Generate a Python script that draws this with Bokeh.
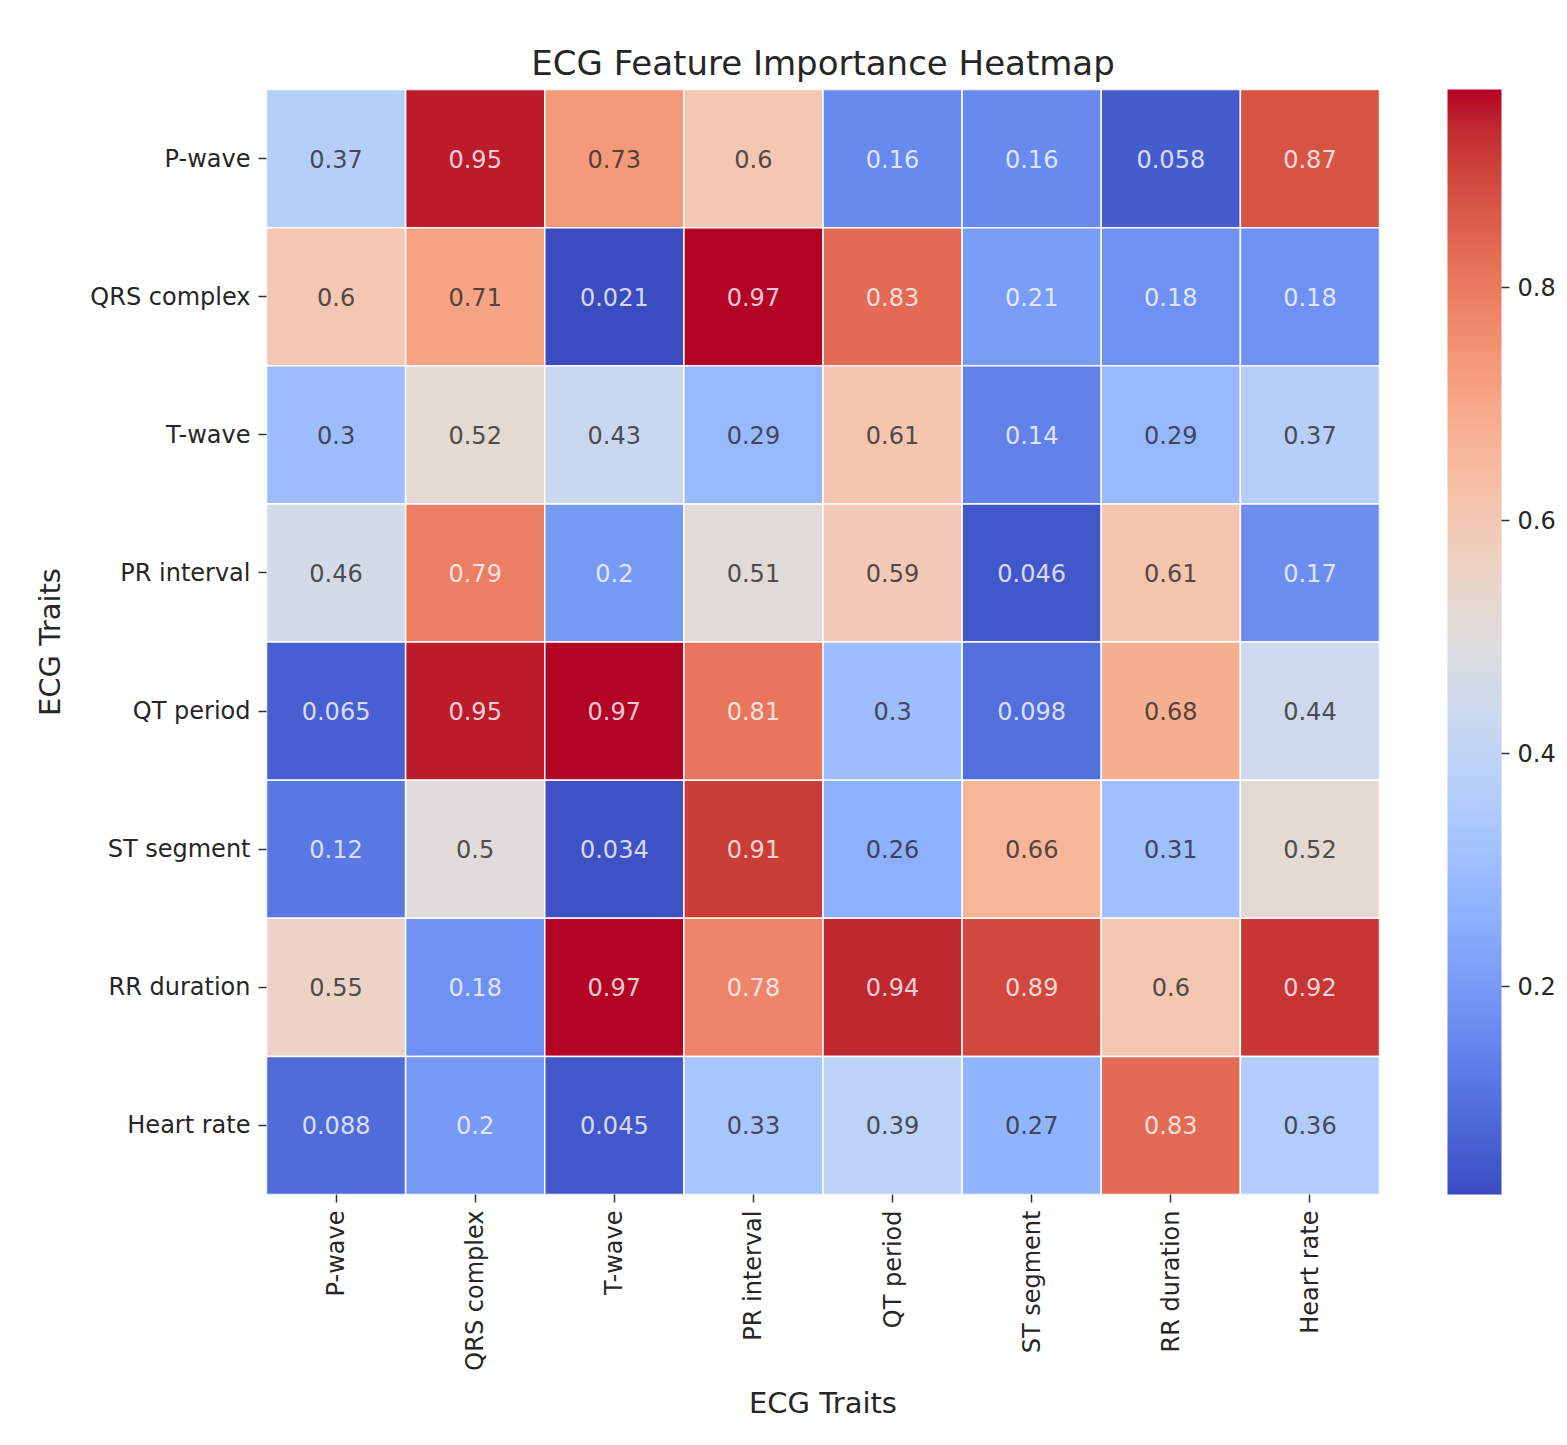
import math
import numpy as np
from bokeh.plotting import figure
from bokeh.models import (ColumnDataSource, FactorRange, LinearColorMapper, ColorBar,
                          FixedTicker)
from bokeh.core.properties import value
from bokeh.embed import file_html
from bokeh.resources import INLINE

traits = ["P-wave", "QRS complex", "T-wave", "PR interval",
          "QT period", "ST segment", "RR duration", "Heart rate"]

row_p_wave      = [0.37, 0.95, 0.73, 0.6, 0.16, 0.16, 0.058, 0.87]
row_qrs_complex = [0.6, 0.71, 0.021, 0.97, 0.83, 0.21, 0.18, 0.18]
row_t_wave      = [0.3, 0.52, 0.43, 0.29, 0.61, 0.14, 0.29, 0.37]
row_pr_interval = [0.46, 0.79, 0.2, 0.51, 0.59, 0.046, 0.61, 0.17]
row_qt_period   = [0.065, 0.95, 0.97, 0.81, 0.3, 0.098, 0.68, 0.44]
row_st_segment  = [0.12, 0.5, 0.034, 0.91, 0.26, 0.66, 0.31, 0.52]
row_rr_duration = [0.55, 0.18, 0.97, 0.78, 0.94, 0.89, 0.6, 0.92]
row_heart_rate  = [0.088, 0.2, 0.045, 0.33, 0.39, 0.27, 0.83, 0.36]
rows_values = [row_p_wave, row_qrs_complex, row_t_wave, row_pr_interval,
               row_qt_period, row_st_segment, row_rr_duration, row_heart_rate]

colorbar_ticks = [0.2, 0.4, 0.6, 0.8]

# coolwarm (Moreland) anchor colours
cw_anchors = np.array([
    (59, 76, 192), (68, 90, 204), (77, 104, 215), (87, 117, 225), (98, 130, 234),
    (108, 142, 241), (119, 154, 247), (130, 165, 251), (141, 176, 254), (152, 185, 255),
    (163, 194, 255), (174, 201, 253), (184, 208, 249), (194, 213, 244), (204, 217, 238),
    (213, 219, 230), (221, 221, 221), (229, 216, 209), (236, 211, 197), (241, 204, 185),
    (245, 196, 173), (247, 187, 160), (247, 177, 148), (247, 166, 135), (244, 154, 123),
    (241, 141, 111), (236, 127, 99), (229, 112, 88), (222, 96, 77), (213, 80, 66),
    (203, 62, 56), (192, 40, 47), (180, 4, 38)], dtype=float)
pos_a = np.linspace(0, 1, len(cw_anchors))
pos_p = np.linspace(0, 1, 256)
cw_rgb = np.stack([np.interp(pos_p, pos_a, cw_anchors[:, k]) for k in range(3)], axis=1)
coolwarm = ["#%02x%02x%02x" % tuple(int(round(c)) for c in rgb) for rgb in cw_rgb]

all_vals = [v for r in rows_values for v in r]
vmin, vmax = min(all_vals), max(all_vals)
mapper = LinearColorMapper(palette=coolwarm, low=vmin, high=vmax)


def lum(rgb):
    c = np.array(rgb) / 255.0
    c = np.where(c <= 0.03928, c / 12.92, ((c + 0.055) / 1.055) ** 2.4)
    return 0.2126 * c[0] + 0.7152 * c[1] + 0.0722 * c[2]


xs, ys, vs, labels, tcols = [], [], [], [], []
for rname, rvals in zip(traits, rows_values):
    for cname, v in zip(traits, rvals):
        xs.append(cname)
        ys.append(rname)
        vs.append(v)
        labels.append(("%.2g" % v))
        idx = int(round((v - vmin) / (vmax - vmin) * 255))
        tcols.append("#262626" if lum(cw_rgb[idx]) > 0.408 else "#ffffff")

src = ColumnDataSource(dict(x=xs, y=ys, v=vs, label=labels, tc=tcols))

FONT = "DejaVu Sans"
p = figure(frame_width=1113, frame_height=1105,
           x_range=FactorRange(*traits), y_range=FactorRange(*reversed(traits)),
           output_backend="svg", toolbar_location=None,
           min_border_left=266, min_border_top=89, min_border_right=170,
           min_border_bottom=228, title="ECG Feature Importance Heatmap")

p.rect(x="x", y="y", width=1, height=1, source=src,
       fill_color={"field": "v", "transform": mapper},
       line_color="white", line_width=1.5)
p.text(x="x", y="y", text="label", source=src, text_color="tc", text_alpha=0.8,
       text_align="center", text_baseline="middle",
       text_font=value(FONT), text_font_size="24px")

p.title.text_font = FONT
p.title.text_font_size = "34px"
p.title.text_font_style = "normal"
p.title.align = "center"
p.title.text_color = "#262626"
p.title.standoff = 14

p.xgrid.grid_line_color = None
p.ygrid.grid_line_color = None
p.outline_line_color = None

for ax in (p.xaxis[0], p.yaxis[0]):
    ax.axis_line_color = None
    ax.major_tick_out = 8
    ax.major_tick_in = 0
    ax.major_tick_line_color = "#333333"
    ax.major_tick_line_width = 1.5
    ax.major_label_text_font = FONT
    ax.major_label_text_font_size = "24px"
    ax.major_label_text_color = "#262626"
    ax.major_label_standoff = 8
    ax.axis_label = "ECG Traits"
    ax.axis_label_text_font = FONT
    ax.axis_label_text_font_size = "29px"
    ax.axis_label_text_font_style = "normal"
    ax.axis_label_text_color = "#262626"

p.xaxis.major_label_orientation = math.pi / 2
p.xaxis.axis_label_standoff = 12
p.yaxis.axis_label_standoff = 20

cb = ColorBar(color_mapper=mapper, ticker=FixedTicker(ticks=colorbar_ticks),
              width=54, height=1105, padding=0, margin=0, location=(68, 0),
              major_tick_out=8, major_tick_in=0, major_tick_line_color="#333333",
              major_tick_line_width=1.5,
              major_label_text_font=FONT, major_label_text_font_size="24px",
              major_label_text_color="#262626", label_standoff=8,
              bar_line_color=None, border_line_color=None,
              background_fill_alpha=0)
p.add_layout(cb, "right")

open("out.html", "w").write(file_html(p, INLINE))
